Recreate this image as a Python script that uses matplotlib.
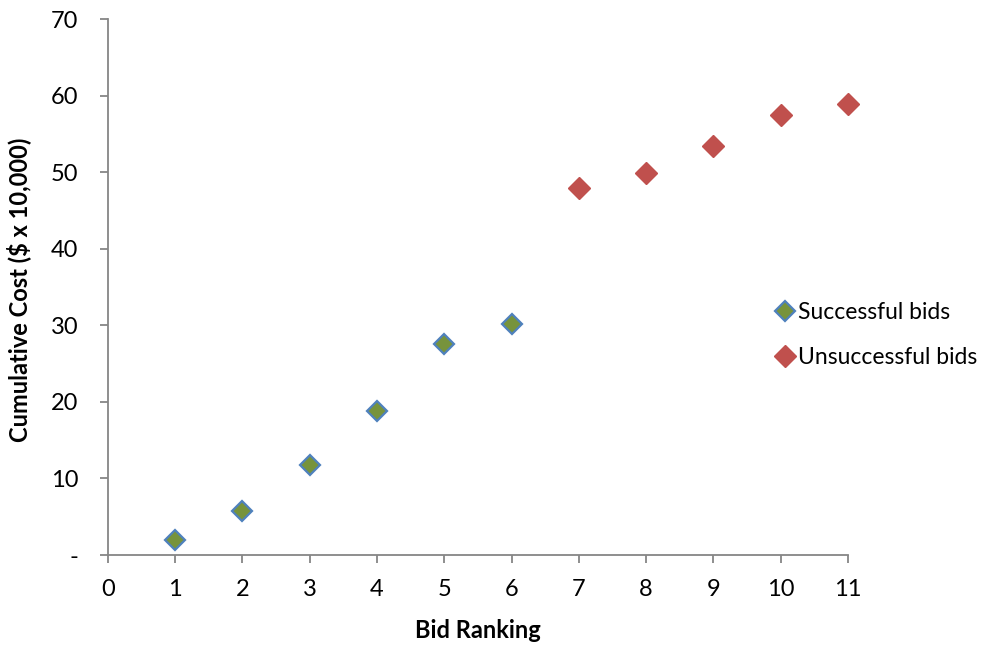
import matplotlib
matplotlib.use('Agg')
import matplotlib.pyplot as plt
from matplotlib.ticker import FuncFormatter

plt.rcParams['font.family'] = ['Lato', 'DejaVu Sans']

rank_ok = [1, 2, 3, 4, 5, 6]
cost_ok = [2.0, 5.8, 11.8, 18.8, 27.5, 30.2]

rank_fail = [7, 8, 9, 10, 11]
cost_fail = [47.9, 49.9, 53.4, 57.4, 58.9]

x_ticks = list(range(0, 12))
y_ticks = [0, 10, 20, 30, 40, 50, 60, 70]

fig = plt.figure(figsize=(9.95, 6.49), dpi=100)
ax = fig.add_axes([0.1085, 0.1448, 0.7437, 0.8259])

ax.plot(rank_ok, cost_ok, linestyle='none', marker='D', markersize=10.5,
        markerfacecolor='#77933C', markeredgecolor='#4F81BD', markeredgewidth=1.6,
        label='Successful bids', clip_on=False, zorder=3)
ax.plot(rank_fail, cost_fail, linestyle='none', marker='D', markersize=11,
        markerfacecolor='#C0504D', markeredgecolor='#C0504D', markeredgewidth=1,
        label='Unsuccessful bids', clip_on=False, zorder=3)

ax.set_xlim(0, 11)
ax.set_ylim(0, 70)
ax.set_xticks(x_ticks)
ax.set_yticks(y_ticks)
ax.yaxis.set_major_formatter(FuncFormatter(lambda v, p: '-' if v == 0 else f'{v:.0f}'))

for s in ['top', 'right']:
    ax.spines[s].set_visible(False)
for s in ['left', 'bottom']:
    ax.spines[s].set_color('#868686')
    ax.spines[s].set_linewidth(1.3)

ax.tick_params(axis='both', direction='out', length=5.5, width=1.3, color='#868686',
               labelsize=17, labelcolor='black')
ax.tick_params(axis='y', pad=16)
ax.tick_params(axis='x', pad=12)

ax.set_xlabel('Bid Ranking', fontsize=17, fontweight='bold')
ax.set_ylabel('Cumulative Cost ($ x 10,000)', fontsize=17, fontweight='bold')
ax.xaxis.set_label_coords(0.5, -0.12)
ax.yaxis.set_label_coords(-0.104, 0.494)

fig.legend(loc='center left', bbox_to_anchor=(0.754, 0.484), frameon=False,
           fontsize=16.5, handletextpad=0.0, labelspacing=1.05, handlelength=1.2)

fig.savefig('out.png', dpi=100)
